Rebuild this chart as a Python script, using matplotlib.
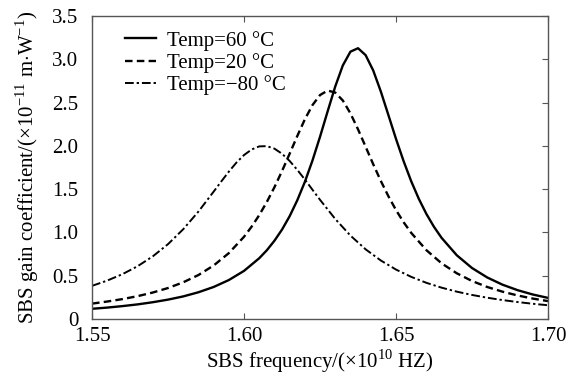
import matplotlib.pyplot as plt

plt.rcParams['font.family'] = ['Liberation Serif', 'DejaVu Serif']
plt.rcParams['mathtext.fontset'] = 'custom'
plt.rcParams['mathtext.rm'] = 'Liberation Serif'

# frequency (x1e10 Hz) and gain values
freq_60 = [1.550, 1.555, 1.560, 1.565, 1.570, 1.575, 1.580, 1.585, 1.590, 1.595,
           1.600, 1.605, 1.6075, 1.610, 1.6125, 1.615, 1.6175, 1.620, 1.6225, 1.625,
           1.6275, 1.630, 1.6325, 1.635, 1.6375, 1.640, 1.6425, 1.645, 1.6475, 1.650,
           1.6525, 1.655, 1.6575, 1.660, 1.6625, 1.665, 1.670, 1.675, 1.680, 1.685,
           1.690, 1.695, 1.700]
gain_60 = [0.118, 0.132, 0.149, 0.169, 0.194, 0.224, 0.261, 0.309, 0.370, 0.450,
           0.556, 0.702, 0.794, 0.904, 1.033, 1.187, 1.370, 1.583, 1.829, 2.105,
           2.398, 2.685, 2.929, 3.088, 3.128, 3.048, 2.871, 2.628, 2.355, 2.080,
           1.823, 1.591, 1.388, 1.213, 1.064, 0.937, 0.736, 0.589, 0.480, 0.397,
           0.333, 0.283, 0.244]

freq_20 = [1.550, 1.555, 1.560, 1.565, 1.570, 1.575, 1.580, 1.585, 1.590, 1.595,
           1.600, 1.6025, 1.605, 1.6075, 1.610, 1.6125, 1.615, 1.6175, 1.620, 1.6225,
           1.625, 1.6275, 1.630, 1.6325, 1.635, 1.6375, 1.640, 1.6425, 1.645, 1.6475,
           1.650, 1.6525, 1.655, 1.660, 1.665, 1.670, 1.675, 1.680, 1.685, 1.690,
           1.695, 1.700]
gain_20 = [0.178, 0.202, 0.230, 0.264, 0.306, 0.358, 0.424, 0.508, 0.618, 0.761,
           0.950, 1.067, 1.200, 1.352, 1.522, 1.709, 1.909, 2.112, 2.306, 2.470,
           2.587, 2.639, 2.616, 2.524, 2.376, 2.191, 1.990, 1.788, 1.595, 1.418,
           1.258, 1.118, 0.995, 0.795, 0.643, 0.528, 0.439, 0.370, 0.316, 0.272,
           0.236, 0.207]

freq_m80 = [1.550, 1.555, 1.560, 1.565, 1.570, 1.575, 1.580, 1.585, 1.590, 1.5925,
            1.595, 1.5975, 1.600, 1.6025, 1.605, 1.6075, 1.610, 1.6125, 1.615, 1.6175,
            1.620, 1.6225, 1.625, 1.630, 1.635, 1.640, 1.645, 1.650, 1.655, 1.660,
            1.665, 1.670, 1.675, 1.680, 1.685, 1.690, 1.695, 1.700]
gain_m80 = [0.383, 0.444, 0.518, 0.610, 0.724, 0.865, 1.037, 1.241, 1.471, 1.588,
            1.702, 1.807, 1.894, 1.958, 1.994, 1.997, 1.968, 1.909, 1.826, 1.724,
            1.612, 1.494, 1.377, 1.156, 0.964, 0.805, 0.676, 0.571, 0.487, 0.418,
            0.362, 0.316, 0.278, 0.246, 0.219, 0.196, 0.176, 0.159]

xticks = [1.55, 1.60, 1.65, 1.70]
xtick_labels = ['1.55', '1.60', '1.65', '1.70']
yticks = [0, 0.5, 1.0, 1.5, 2.0, 2.5, 3.0, 3.5]
ytick_labels = ['0', '0.5', '1.0', '1.5', '2.0', '2.5', '3.0', '3.5']

fig = plt.figure(figsize=(5.73, 3.75), dpi=100)
ax = fig.add_axes([0.1606, 0.1493, 0.7958, 0.808])

ax.plot(freq_60, gain_60, color='black', lw=1.7, ls='-', label='Temp=60 \u00b0C')
ax.plot(freq_20, gain_20, color='black', lw=1.7, ls=(0, (3.2, 1.8)), label='Temp=20 \u00b0C')
ax.plot(freq_m80, gain_m80, color='black', lw=1.4, ls=(0, (4.5, 1.5, 1.2, 1.5)),
        label='Temp=\u221280 \u00b0C')

ax.set_xlim(1.55, 1.70)
ax.set_ylim(0, 3.5)
ax.set_xticks(xticks)
ax.set_xticklabels(xtick_labels)
ax.set_yticks(yticks)
ax.set_yticklabels(ytick_labels)
ax.tick_params(axis='both', direction='in', labelsize=15, length=4, color='#555555')
ax.tick_params(axis='y', left=False, right=True, labelleft=True, pad=10)
ax.tick_params(axis='x', top=True, pad=6)
for s in ax.spines.values():
    s.set_color('#555555')
    s.set_linewidth(1.0)

ax.set_xlabel(r'SBS frequency/($\times$10$^{10}$ HZ)', fontsize=15, labelpad=1)
ax.set_ylabel(r'SBS gain coefficient/($\times$10$^{-11}$ m$\cdot$W$^{-1}$)', fontsize=15,
              labelpad=8)

ax.legend(loc='upper left', frameon=False, fontsize=15, handlelength=1.5,
          handletextpad=0.5, labelspacing=0.12, borderaxespad=0.3,
          bbox_to_anchor=(0.04, 1.0))

fig.savefig('out.png', dpi=100)
